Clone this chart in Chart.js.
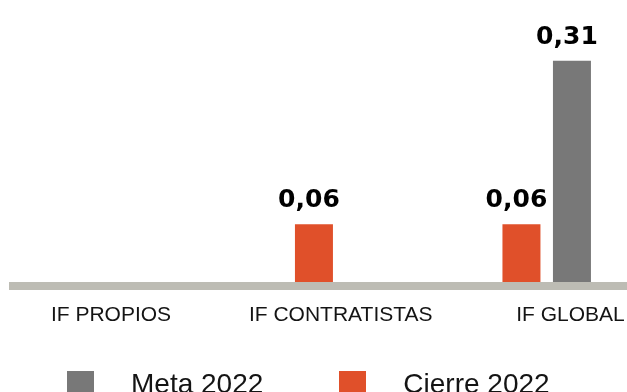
<!DOCTYPE html>
<html lang="es">
<head>
<meta charset="utf-8">
<title>Índice de frecuencia 2022</title>
<script src="https://cdn.jsdelivr.net/npm/chart.js@4.4.1/dist/chart.umd.min.js"></script>
<style>
  html, body { margin: 0; padding: 0; background: #ffffff; overflow: hidden; }
  #wrap { position: relative; width: 627px; height: 392px; }
  #legend {
    position: absolute; left: 67px; top: 370px;
    display: flex; align-items: center; white-space: nowrap;
    font-family: "Liberation Sans", Arial, sans-serif; font-size: 28px; color: #141414;
  }
  .item { display: inline-flex; align-items: center; margin-right: 76px; line-height: 28px; }
  .box { width: 27px; height: 27px; margin-right: 37px; }
</style>
</head>
<body>
<div id="wrap">
  <canvas id="chart"></canvas>
  <div id="legend"></div>
</div>
<script>
// Categories and series
const categories = ['IF PROPIOS', 'IF CONTRATISTAS', 'IF GLOBAL'];
const cierre2022 = [null, 0.06, 0.06];
const meta2022   = [null, null, 0.31];
const seriesNames = ['Cierre 2022', 'Meta 2022'];
const seriesColors = ['#E0502A', '#787878'];

// Value axis range (the baseline sits slightly below zero)
const Y_MIN = -0.034;
const Y_MAX = 0.403;

const toPoints = vals => categories.map((c, i) => ({ x: i, y: vals[i] }));
const fmt = v => v.toFixed(2).replace('.', ',');

// Values written above each bar, nudged a little to the left
const valueLabels = {
  id: 'valueLabels',
  afterDatasetsDraw(chart) {
    const ctx = chart.ctx;
    ctx.save();
    ctx.font = 'bold 25px "DejaVu Sans", sans-serif';
    ctx.fillStyle = '#000000';
    ctx.textAlign = 'center';
    ctx.textBaseline = 'alphabetic';
    chart.data.datasets.forEach((ds, di) => {
      const meta = chart.getDatasetMeta(di);
      meta.data.forEach((bar, i) => {
        const v = ds.data[i].y;
        if (v === null || v === undefined) return;
        ctx.fillText(fmt(v), bar.x - 5, bar.y - 17);
      });
    });
    ctx.restore();
  }
};

const indexTicks = axis => { axis.ticks = categories.map((c, i) => ({ value: i })); };

const chart = new Chart(document.getElementById('chart'), {
  type: 'bar',
  data: {
    datasets: [
      { label: seriesNames[0], data: toPoints(cierre2022), backgroundColor: seriesColors[0], base: Y_MIN },
      { label: seriesNames[1], data: toPoints(meta2022),   backgroundColor: seriesColors[1], base: Y_MIN }
    ]
  },
  options: {
    responsive: true,
    maintainAspectRatio: false,
    animation: false,
    events: [],
    categoryPercentage: 0.4867,
    barPercentage: 0.7525,
    layout: { padding: { left: 13, right: 0, top: 0, bottom: 64 } },
    plugins: { legend: { display: false }, tooltip: { enabled: false } },
    scales: {
      x: {
        type: 'linear',
        display: false,
        offset: false,
        min: -0.572,
        max: 2.387,
        afterBuildTicks: indexTicks
      },
      xLabels: {
        type: 'linear',
        position: 'bottom',
        offset: false,
        min: -0.4265,
        max: 2.246,
        afterBuildTicks: indexTicks,
        grid: { display: false, offset: false, drawTicks: true, tickLength: 17 },
        border: { display: true, color: '#BDBCB4', width: 8, z: 1 },
        ticks: {
          padding: 0,
          maxRotation: 0,
          autoSkip: false,
          color: '#141414',
          font: { family: '"Liberation Sans", Arial, sans-serif', size: 21 },
          callback: v => categories[v] ?? ''
        }
      },
      y: { display: false, min: Y_MIN, max: Y_MAX }
    }
  },
  plugins: [valueLabels]
});

// Legend built from the chart's datasets (Meta first)
const legend = document.getElementById('legend');
chart.data.datasets.slice().reverse().forEach(ds => {
  const item = document.createElement('span');
  item.className = 'item';
  const box = document.createElement('span');
  box.className = 'box';
  box.style.background = ds.backgroundColor;
  const text = document.createElement('span');
  text.textContent = ds.label;
  item.appendChild(box);
  item.appendChild(text);
  legend.appendChild(item);
});
</script>
</body>
</html>
